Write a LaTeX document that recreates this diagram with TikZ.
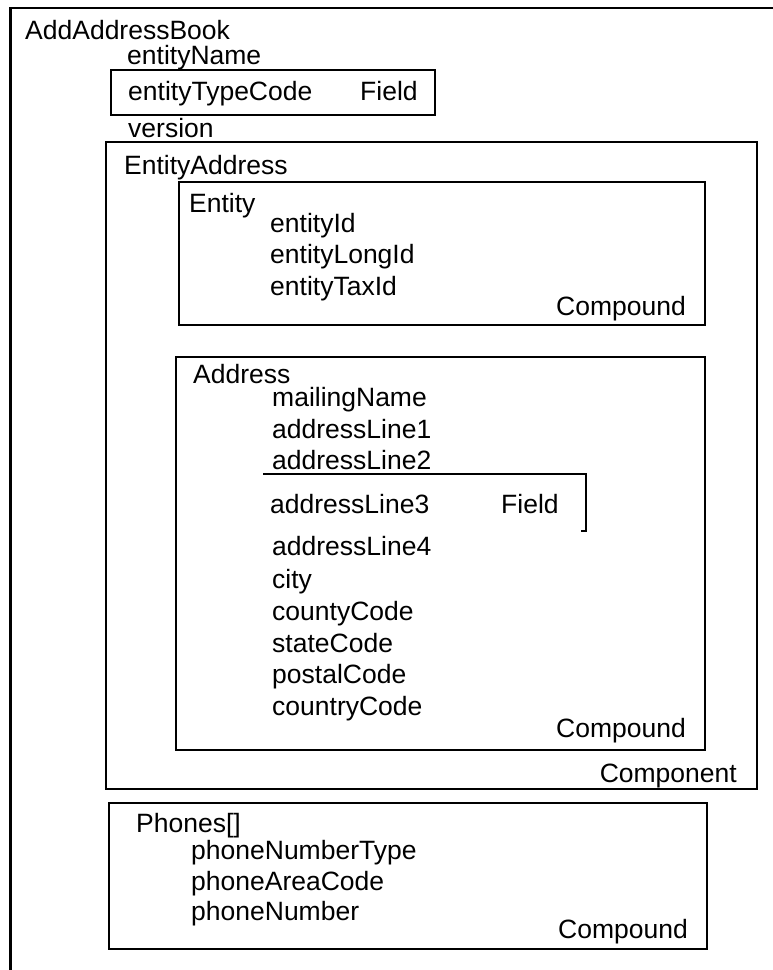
\documentclass[tikz,border=0pt]{standalone}
\usepackage{fontspec}
\setmainfont{Liberation Sans}
\begin{document}
\begin{tikzpicture}[x=1pt,y=-1pt,
  box/.style={line width=2.2pt},
  lbl/.style={anchor=base west,inner sep=0pt,font=\fontsize{26.5}{30}\selectfont},
  rlbl/.style={lbl,anchor=base east}]
\useasboundingbox (0,0) rectangle (773,970);
\clip (0,0) rectangle (773,970);
% outer box runs off the page
\draw [box](10.5,8) rectangle (800,1000);
\node [lbl] (book) at (25,39) {AddAddressBook};
\node [lbl] (ename) at (127,64) {entityName};
\draw [box](111,70) rectangle (435,115);
\node [lbl] (etype) at (128,100) {entityTypeCode};
\node [lbl] (efield) at (360,100) {Field};
\node [lbl] (ver) at (128,137) {version};
% component
\draw [box](106,142) rectangle (757,789);
\node [lbl] (eaddr) at (124,174) {EntityAddress};
\node [rlbl] (comp) at (737,782) {Component};
% entity
\draw [box](179,182) rectangle (705,325);
\node [lbl] (ent) at (189,212) {Entity};
\node [lbl] (eid) at (270,232) {entityId};
\node [lbl] (elong) at (270,263) {entityLongId};
\node [lbl] (etax) at (270,295) {entityTaxId};
\node [rlbl] (ecomp) at (686,315) {Compound};
% address
\draw [box](176,357) rectangle (705,750);
\node [lbl] (addr) at (193,383) {Address};
\node [lbl] (mail) at (272,406) {mailingName};
\node [lbl] (al1) at (272,438) {addressLine1};
\node [lbl] (al2) at (272,469) {addressLine2};
\draw [line width=1.6pt](263,474) -- (586,474) -- (586,531) -- (581,531);
\node [lbl] (al3) at (270,513) {addressLine3};
\node [lbl] (afield) at (501,513) {Field};
\node [lbl] (al4) at (272,555) {addressLine4};
\node [lbl] (city) at (272,588) {city};
\node [lbl] (county) at (272,620) {countyCode};
\node [lbl] (state) at (272,652) {stateCode};
\node [lbl] (postal) at (272,683) {postalCode};
\node [lbl] (country) at (272,715) {countryCode};
\node [rlbl] (acomp) at (686,737) {Compound};
% phones
\draw [box](109,803) rectangle (707,949);
\node [lbl] (ph) at (136,832) {Phones[]};
\node [lbl] (ptype) at (191,859) {phoneNumberType};
\node [lbl] (parea) at (191,890) {phoneAreaCode};
\node [lbl] (pnum) at (191,920) {phoneNumber};
\node [rlbl] (pcomp) at (688,938) {Compound};
\end{tikzpicture}
\end{document}
